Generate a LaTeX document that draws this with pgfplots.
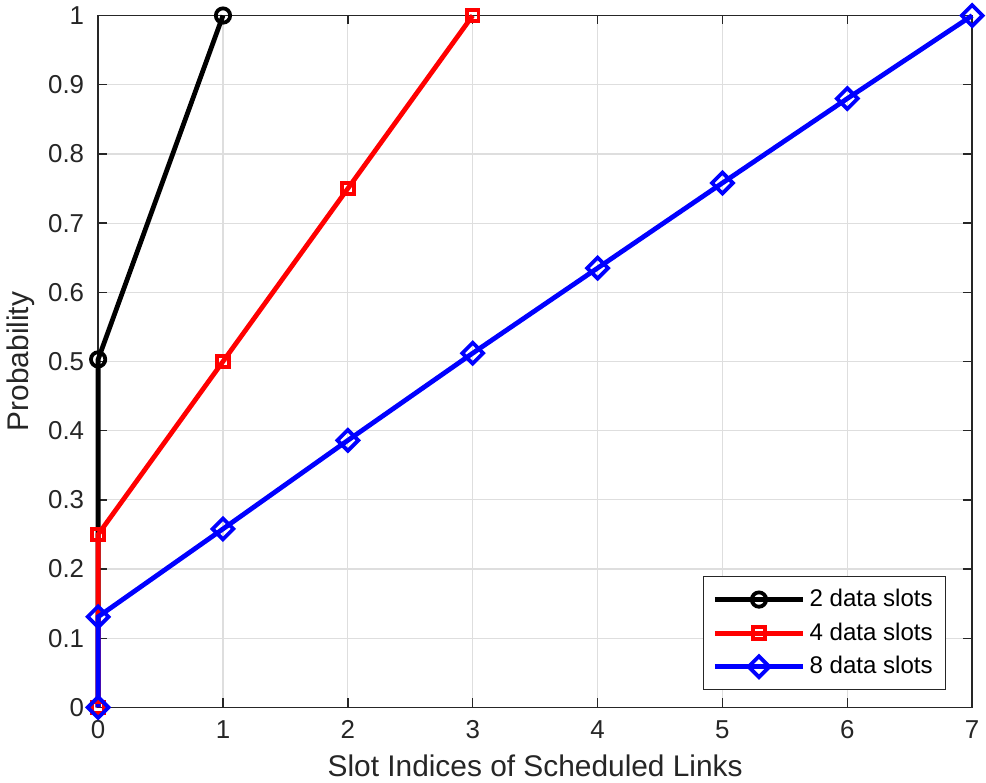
\documentclass[border=0pt]{standalone}
\usepackage{pgfplots}
\pgfplotsset{compat=1.18}
\usepackage{fontspec}
\setmainfont{Liberation Sans}
\definecolor{axgray}{RGB}{38,38,38}
\begin{document}
\begin{tikzpicture}
\begin{axis}[
  scale only axis,
  width=439pt, height=347.5pt,
  xmin=0, xmax=7, ymin=0, ymax=1,
  xtick={0,1,...,7},
  ytick={0,0.1,0.2,0.3,0.4,0.5,0.6,0.7,0.8,0.9,1},
  grid=major,
  grid style={draw=black!13, line width=0.6pt},
  axis line style={draw=axgray, line width=0.7pt},
  every tick/.style={draw=axgray, line width=0.7pt},
  major tick length=4.5pt,
  tick align=inside,
  xtick pos=both, ytick pos=both,
  tick label style={font=\fontsize{13}{15}\selectfont, text=axgray},
  yticklabel style={xshift=-3.5pt},
  xticklabel style={yshift=-3pt},
  label style={font=\fontsize{15}{18}\selectfont, text=axgray},
  xlabel style={yshift=-1pt},
  /pgf/number format/.cd, fixed, precision=1, assume math mode=true,
  /pgfplots/.cd,
  xlabel={Slot Indices of Scheduled Links},
  ylabel={Probability},
  clip=false,
  every axis plot/.append style={line width=2.4pt},
  legend style={
    at={(rel axis cs:1,0)}, anchor=south east,
    xshift=-13pt, yshift=8.5pt,
    draw=axgray, line width=0.6pt,
    font=\fontsize{12.1}{15}\selectfont,
    row sep=2.6pt, inner sep=4.5pt,
  },
  legend cell align=left,
  legend image code/.code={%
    \draw[mark repeat=2, mark phase=2]
      plot coordinates {(0cm,0cm) (0.78cm,0cm) (1.56cm,0cm)};},
]
\addplot[black, mark=o, mark size=3.6pt, mark options={solid, line width=1.9pt}]
  coordinates {(0,0) (0,0.503) (1,1)};
\addlegendentry{2 data slots}
\addplot[red, mark=square, mark size=2.9pt, mark options={solid, line width=1.9pt}]
  coordinates {(0,0) (0,0.25) (1,0.5) (2,0.75) (3,1)};
\addlegendentry{4 data slots}
\addplot[blue, mark=square, mark size=3.7pt, mark options={solid, rotate=45, line width=1.9pt}]
  coordinates {(0,0) (0,0.131) (1,0.258) (2,0.386) (3,0.512) (4,0.635) (5,0.758) (6,0.88) (7,1)};
\addlegendentry{8 data slots}
% keep a little space to the right of the last tick label
\path (rel axis cs:1,0) ++(5pt,0);
\end{axis}
\end{tikzpicture}
\end{document}
